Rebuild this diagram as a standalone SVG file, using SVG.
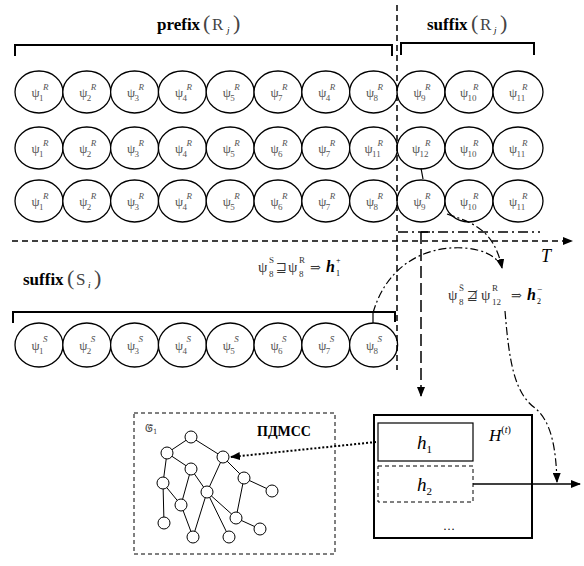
<svg xmlns="http://www.w3.org/2000/svg" width="584" height="566" viewBox="0 0 584 566">
<defs>
<style>
.el{fill:#fff;stroke:#000;stroke-width:1.3}
.lab{font-family:"Liberation Serif","DejaVu Serif",serif;font-size:13px;fill:#555}
.lab .s{font-size:9px}
.lab .r{font-size:9px;font-style:italic}
.br{fill:none;stroke:#000;stroke-width:2}
.ttl{font-family:"Liberation Serif","DejaVu Serif",serif;font-size:17px;fill:#000}
.b{font-weight:bold}
.math{font-family:"Liberation Serif","DejaVu Serif",serif;font-size:15px;fill:#333}
.op{font-family:"DejaVu Serif","DejaVu Sans",serif;font-size:13px}
.gn{fill:#fff;stroke:#000;stroke-width:1}
.ge{stroke:#000;stroke-width:1;fill:none}
</style>
<marker id="ah" viewBox="0 0 10 8" refX="9" refY="4" markerWidth="10" markerHeight="8" markerUnits="userSpaceOnUse" orient="auto">
<path d="M0,0 L10,4 L0,8 Z" fill="#000"/>
</marker>
</defs>
<rect width="584" height="566" fill="#fff"/>

<g id="titles">
<text class="ttl" y="30"><tspan x="157" class="b">prefix</tspan><tspan x="203" font-size="22" font-weight="normal" fill="#444">(</tspan><tspan x="212" fill="#444">R</tspan><tspan x="227" y="33" font-size="9" font-style="italic">j</tspan><tspan x="233" y="30" font-size="22" fill="#444">)</tspan></text>
<text class="ttl" y="30"><tspan x="427" class="b">suffix</tspan><tspan x="471" font-size="22" fill="#444">(</tspan><tspan x="480" fill="#444">R</tspan><tspan x="494" y="33" font-size="9" font-style="italic">j</tspan><tspan x="500" y="30" font-size="22" fill="#444">)</tspan></text>
<text class="ttl" y="285"><tspan x="23" class="b">suffix</tspan><tspan x="67" font-size="22" fill="#444">(</tspan><tspan x="76" fill="#444">S</tspan><tspan x="88" y="288" font-size="9" font-style="italic">i</tspan><tspan x="94" y="285" font-size="22" fill="#444">)</tspan></text>
</g>

<g id="brackets">
<path class="br" d="M15,56 V45 H392 V56"/>
<path class="br" d="M401,55 V43 H534 V55"/>
<path class="br" d="M13,323 V312 H395 V322"/>
</g>

<g id="row1">
<ellipse class="el" cx="39" cy="92" rx="24" ry="21"/>
<ellipse class="el" cx="86.8" cy="92" rx="24" ry="21"/>
<ellipse class="el" cx="134.6" cy="92" rx="24" ry="21"/>
<ellipse class="el" cx="182.4" cy="92" rx="24" ry="21"/>
<ellipse class="el" cx="230.2" cy="92" rx="24" ry="21"/>
<ellipse class="el" cx="278" cy="92" rx="24" ry="21"/>
<ellipse class="el" cx="325.8" cy="92" rx="24" ry="21"/>
<ellipse class="el" cx="373.6" cy="92" rx="24" ry="21"/>
<ellipse class="el" cx="421" cy="92" rx="24" ry="21"/>
<ellipse class="el" cx="469" cy="92" rx="24" ry="21"/>
<ellipse class="el" cx="518" cy="92" rx="25" ry="21"/>
<text class="lab"><tspan x="31.5" y="97">ψ</tspan><tspan class="s" x="39" y="101">1</tspan><tspan class="r" x="43" y="90">R</tspan></text>
<text class="lab"><tspan x="79.3" y="97">ψ</tspan><tspan class="s" x="86.8" y="101">2</tspan><tspan class="r" x="90.8" y="90">R</tspan></text>
<text class="lab"><tspan x="127.1" y="97">ψ</tspan><tspan class="s" x="134.6" y="101">3</tspan><tspan class="r" x="138.6" y="90">R</tspan></text>
<text class="lab"><tspan x="174.9" y="97">ψ</tspan><tspan class="s" x="182.4" y="101">4</tspan><tspan class="r" x="186.4" y="90">R</tspan></text>
<text class="lab"><tspan x="222.7" y="97">ψ</tspan><tspan class="s" x="230.2" y="101">5</tspan><tspan class="r" x="234.2" y="90">R</tspan></text>
<text class="lab"><tspan x="270.5" y="97">ψ</tspan><tspan class="s" x="278" y="101">7</tspan><tspan class="r" x="282" y="90">R</tspan></text>
<text class="lab"><tspan x="318.3" y="97">ψ</tspan><tspan class="s" x="325.8" y="101">4</tspan><tspan class="r" x="329.8" y="90">R</tspan></text>
<text class="lab"><tspan x="366.1" y="97">ψ</tspan><tspan class="s" x="373.6" y="101">8</tspan><tspan class="r" x="377.6" y="90">R</tspan></text>
<text class="lab"><tspan x="413.5" y="97">ψ</tspan><tspan class="s" x="421" y="101">9</tspan><tspan class="r" x="425" y="90">R</tspan></text>
<text class="lab"><tspan x="460" y="97">ψ</tspan><tspan class="s" x="467.5" y="101">10</tspan><tspan class="r" x="473" y="90">R</tspan></text>
<text class="lab"><tspan x="509" y="97">ψ</tspan><tspan class="s" x="516.5" y="101">11</tspan><tspan class="r" x="522" y="90">R</tspan></text>
</g>

<g id="row2">
<ellipse class="el" cx="39" cy="148" rx="24" ry="21"/>
<ellipse class="el" cx="86.8" cy="148" rx="24" ry="21"/>
<ellipse class="el" cx="134.6" cy="148" rx="24" ry="21"/>
<ellipse class="el" cx="182.4" cy="148" rx="24" ry="21"/>
<ellipse class="el" cx="230.2" cy="148" rx="24" ry="21"/>
<ellipse class="el" cx="278" cy="148" rx="24" ry="21"/>
<ellipse class="el" cx="325.8" cy="148" rx="24" ry="21"/>
<ellipse class="el" cx="373.6" cy="148" rx="24" ry="21"/>
<ellipse class="el" cx="421" cy="148" rx="24" ry="21"/>
<ellipse class="el" cx="469" cy="148" rx="24" ry="21"/>
<ellipse class="el" cx="518" cy="148" rx="25" ry="21"/>
<text class="lab"><tspan x="31.5" y="153">ψ</tspan><tspan class="s" x="39" y="157">1</tspan><tspan class="r" x="43" y="146">R</tspan></text>
<text class="lab"><tspan x="79.3" y="153">ψ</tspan><tspan class="s" x="86.8" y="157">2</tspan><tspan class="r" x="90.8" y="146">R</tspan></text>
<text class="lab"><tspan x="127.1" y="153">ψ</tspan><tspan class="s" x="134.6" y="157">3</tspan><tspan class="r" x="138.6" y="146">R</tspan></text>
<text class="lab"><tspan x="174.9" y="153">ψ</tspan><tspan class="s" x="182.4" y="157">4</tspan><tspan class="r" x="186.4" y="146">R</tspan></text>
<text class="lab"><tspan x="222.7" y="153">ψ</tspan><tspan class="s" x="230.2" y="157">5</tspan><tspan class="r" x="234.2" y="146">R</tspan></text>
<text class="lab"><tspan x="270.5" y="153">ψ</tspan><tspan class="s" x="278" y="157">6</tspan><tspan class="r" x="282" y="146">R</tspan></text>
<text class="lab"><tspan x="318.3" y="153">ψ</tspan><tspan class="s" x="325.8" y="157">7</tspan><tspan class="r" x="329.8" y="146">R</tspan></text>
<text class="lab"><tspan x="364.6" y="153">ψ</tspan><tspan class="s" x="372.1" y="157">11</tspan><tspan class="r" x="377.6" y="146">R</tspan></text>
<text class="lab"><tspan x="412" y="153">ψ</tspan><tspan class="s" x="419.5" y="157">12</tspan><tspan class="r" x="425" y="146">R</tspan></text>
<text class="lab"><tspan x="460" y="153">ψ</tspan><tspan class="s" x="467.5" y="157">10</tspan><tspan class="r" x="473" y="146">R</tspan></text>
<text class="lab"><tspan x="509" y="153">ψ</tspan><tspan class="s" x="516.5" y="157">11</tspan><tspan class="r" x="522" y="146">R</tspan></text>
</g>

<g id="row3">
<ellipse class="el" cx="39" cy="201" rx="24" ry="21"/>
<ellipse class="el" cx="86.8" cy="201" rx="24" ry="21"/>
<ellipse class="el" cx="134.6" cy="201" rx="24" ry="21"/>
<ellipse class="el" cx="182.4" cy="201" rx="24" ry="21"/>
<ellipse class="el" cx="230.2" cy="201" rx="24" ry="21"/>
<ellipse class="el" cx="278" cy="201" rx="24" ry="21"/>
<ellipse class="el" cx="325.8" cy="201" rx="24" ry="21"/>
<ellipse class="el" cx="373.6" cy="201" rx="24" ry="21"/>
<ellipse class="el" cx="421" cy="201" rx="24" ry="21"/>
<ellipse class="el" cx="469" cy="201" rx="24" ry="21"/>
<ellipse class="el" cx="518" cy="201" rx="25" ry="21"/>
<text class="lab"><tspan x="31.5" y="206">ψ</tspan><tspan class="s" x="39" y="210">1</tspan><tspan class="r" x="43" y="199">R</tspan></text>
<text class="lab"><tspan x="79.3" y="206">ψ</tspan><tspan class="s" x="86.8" y="210">2</tspan><tspan class="r" x="90.8" y="199">R</tspan></text>
<text class="lab"><tspan x="127.1" y="206">ψ</tspan><tspan class="s" x="134.6" y="210">3</tspan><tspan class="r" x="138.6" y="199">R</tspan></text>
<text class="lab"><tspan x="174.9" y="206">ψ</tspan><tspan class="s" x="182.4" y="210">4</tspan><tspan class="r" x="186.4" y="199">R</tspan></text>
<text class="lab"><tspan x="222.7" y="206">ψ</tspan><tspan class="s" x="230.2" y="210">5</tspan><tspan class="r" x="234.2" y="199">R</tspan></text>
<text class="lab"><tspan x="270.5" y="206">ψ</tspan><tspan class="s" x="278" y="210">6</tspan><tspan class="r" x="282" y="199">R</tspan></text>
<text class="lab"><tspan x="318.3" y="206">ψ</tspan><tspan class="s" x="325.8" y="210">7</tspan><tspan class="r" x="329.8" y="199">R</tspan></text>
<text class="lab"><tspan x="366.1" y="206">ψ</tspan><tspan class="s" x="373.6" y="210">8</tspan><tspan class="r" x="377.6" y="199">R</tspan></text>
<text class="lab"><tspan x="413.5" y="206">ψ</tspan><tspan class="s" x="421" y="210">9</tspan><tspan class="r" x="425" y="199">R</tspan></text>
<text class="lab"><tspan x="460" y="206">ψ</tspan><tspan class="s" x="467.5" y="210">10</tspan><tspan class="r" x="473" y="199">R</tspan></text>
<text class="lab"><tspan x="509" y="206">ψ</tspan><tspan class="s" x="516.5" y="210">11</tspan><tspan class="r" x="522" y="199">R</tspan></text>
</g>

<g id="rowS">
<ellipse class="el" cx="39" cy="345" rx="24" ry="22"/>
<ellipse class="el" cx="86.8" cy="345" rx="24" ry="22"/>
<ellipse class="el" cx="134.6" cy="345" rx="24" ry="22"/>
<ellipse class="el" cx="182.4" cy="345" rx="24" ry="22"/>
<ellipse class="el" cx="230.2" cy="345" rx="24" ry="22"/>
<ellipse class="el" cx="278" cy="345" rx="24" ry="22"/>
<ellipse class="el" cx="325.8" cy="345" rx="24" ry="22"/>
<ellipse class="el" cx="373.6" cy="345" rx="24" ry="22"/>
<text class="lab"><tspan x="31.5" y="350">ψ</tspan><tspan class="s" x="39" y="354">1</tspan><tspan class="r" x="43" y="342">S̄</tspan></text>
<text class="lab"><tspan x="79.3" y="350">ψ</tspan><tspan class="s" x="86.8" y="354">2</tspan><tspan class="r" x="90.8" y="342">S̄</tspan></text>
<text class="lab"><tspan x="127.1" y="350">ψ</tspan><tspan class="s" x="134.6" y="354">3</tspan><tspan class="r" x="138.6" y="342">S̄</tspan></text>
<text class="lab"><tspan x="174.9" y="350">ψ</tspan><tspan class="s" x="182.4" y="354">4</tspan><tspan class="r" x="186.4" y="342">S̄</tspan></text>
<text class="lab"><tspan x="222.7" y="350">ψ</tspan><tspan class="s" x="230.2" y="354">5</tspan><tspan class="r" x="234.2" y="342">S̄</tspan></text>
<text class="lab"><tspan x="270.5" y="350">ψ</tspan><tspan class="s" x="278" y="354">6</tspan><tspan class="r" x="282" y="342">S̄</tspan></text>
<text class="lab"><tspan x="318.3" y="350">ψ</tspan><tspan class="s" x="325.8" y="354">7</tspan><tspan class="r" x="329.8" y="342">S̄</tspan></text>
<text class="lab"><tspan x="366.1" y="350">ψ</tspan><tspan class="s" x="373.6" y="354">8</tspan><tspan class="r" x="377.6" y="342">S̄</tspan></text>
</g>

<g id="axis">
<line x1="12" y1="241" x2="572" y2="241" stroke="#000" stroke-width="1.5" stroke-dasharray="6,4" marker-end="url(#ah)"/>
<text x="541" y="262" font-family="Liberation Serif, DejaVu Serif, serif" font-size="18" font-style="italic">T</text>
</g>

<g id="formulas">
<text class="math"><tspan x="258" y="272">ψ</tspan><tspan x="269" y="263" font-size="9">S</tspan><tspan x="269" y="277" font-size="9">8</tspan><tspan class="op" x="276" y="272">⊒</tspan><tspan x="288" y="272">ψ</tspan><tspan x="299" y="263" font-size="9">R</tspan><tspan x="299" y="277" font-size="9">8</tspan><tspan class="op" x="310" y="272">⇒</tspan><tspan x="326" y="272" font-size="16" font-weight="bold" font-style="italic" fill="#000">h</tspan><tspan x="336" y="276" font-size="8" fill="#000">1</tspan><tspan x="336" y="263" font-size="8" fill="#000">+</tspan></text>
<text class="math"><tspan x="448" y="300">ψ</tspan><tspan x="459" y="291" font-size="9">S̄</tspan><tspan x="459" y="305" font-size="9">8</tspan><tspan class="op" x="467" y="300">⋣</tspan><tspan x="481" y="300">ψ</tspan><tspan x="492" y="291" font-size="9">R</tspan><tspan x="492" y="305" font-size="9">12</tspan><tspan class="op" x="511" y="300">⇒</tspan><tspan x="527" y="300" font-size="16" font-weight="bold" font-style="italic" fill="#000">h</tspan><tspan x="537" y="304" font-size="8" fill="#000">2</tspan><tspan x="537" y="292" font-size="9" fill="#000">−</tspan></text>
</g>

<g id="pdmss">
<rect x="134" y="413" width="201" height="141" fill="none" stroke="#000" stroke-width="1" stroke-dasharray="4,3"/>
<text x="145" y="432" font-family="DejaVu Serif, serif" font-size="11" fill="#444">𝔊̃<tspan font-size="7" dy="2">1</tspan></text>
<text x="257" y="436" font-family="Liberation Serif, DejaVu Serif, serif" font-size="14" font-weight="bold">ПДМСС</text>
<g id="graph">
<path class="ge" d="M191,437 L167,453 M191,437 L223,457 M167,453 L191,469 M167,453 L163,483 M163,483 L164,523 M163,483 L181,505 M191,469 L181,505 M191,469 L207,492 M181,505 L193,537 M207,492 L193,537 M223,457 L207,492 M223,457 L244,478 M244,478 L236,518 M244,478 L272,491 M207,492 L236,518 M207,492 L229,537 M236,518 L260,529"/>
<circle class="gn" cx="191" cy="437" r="6"/>
<circle class="gn" cx="167" cy="453" r="6"/>
<circle class="gn" cx="223" cy="457" r="6"/>
<circle class="gn" cx="191" cy="469" r="6"/>
<circle class="gn" cx="244" cy="478" r="6"/>
<circle class="gn" cx="272" cy="491" r="6"/>
<circle class="gn" cx="163" cy="483" r="6"/>
<circle class="gn" cx="207" cy="492" r="6"/>
<circle class="gn" cx="181" cy="505" r="6"/>
<circle class="gn" cx="236" cy="518" r="6"/>
<circle class="gn" cx="164" cy="523" r="6"/>
<circle class="gn" cx="193" cy="537" r="6"/>
<circle class="gn" cx="229" cy="537" r="6"/>
<circle class="gn" cx="260" cy="529" r="6"/>
</g>
</g>

<g id="hbox">
<rect x="374" y="415" width="158" height="123" fill="#fff" stroke="#000" stroke-width="2"/>
<rect x="378" y="423" width="95" height="38" fill="#fff" stroke="#000" stroke-width="1.2"/>
<rect x="378" y="466" width="95" height="36" fill="#fff" stroke="#000" stroke-width="1" stroke-dasharray="4,3"/>
<text x="417" y="449" font-family="Liberation Serif, DejaVu Serif, serif" font-size="19" font-style="italic">h<tspan font-size="11" dy="4" font-style="normal">1</tspan></text>
<text x="417" y="491" font-family="Liberation Serif, DejaVu Serif, serif" font-size="19" font-style="italic">h<tspan font-size="11" dy="4" font-style="normal">2</tspan></text>
<text x="489" y="441" font-family="Liberation Serif, DejaVu Serif, serif" font-size="17" font-style="italic">H<tspan font-size="10" dy="-8" font-style="normal">(</tspan><tspan font-size="10" font-style="italic">t</tspan><tspan font-size="10" font-style="normal">)</tspan></text>
<text x="443" y="530" font-family="Liberation Serif, DejaVu Serif, serif" font-size="12">…</text>
</g>

<g id="connectors" fill="none" stroke="#000">
<line x1="397" y1="5" x2="397" y2="370" stroke-width="1.5" stroke-dasharray="6,4"/>
<path d="M398,232 H540" stroke-width="1.5" stroke-dasharray="10,4,2,4"/>
<path d="M421,232 H430" stroke-width="1.5"/>
<path d="M421,232 V396" stroke-width="1.5" stroke-dasharray="12,5" marker-end="url(#ah)"/>
<path d="M421,168 L423,179" stroke-width="1.2"/>
<path d="M447,214 C470,222 494,228 502,268" stroke-width="1.2" stroke-dasharray="8,3,2,3" marker-end="url(#ah)"/>
<path d="M373,313 L373,323" stroke-width="1.2"/>
<path d="M373,313 C385,270 420,245 465,248 C485,250 495,256 502,266" stroke-width="1.2" stroke-dasharray="8,3,2,3"/>
<path d="M505,311 C509,360 514,393 535,408 C552,422 556,450 557,482" stroke-width="1.2" stroke-dasharray="8,3,2,3" marker-end="url(#ah)"/>
<path d="M473,484 H580" stroke-width="1.3" marker-end="url(#ah)"/>
<path d="M376,442 L231,457" stroke-width="2" stroke-dasharray="2,2" marker-end="url(#ah)"/>
</g>
</svg>
